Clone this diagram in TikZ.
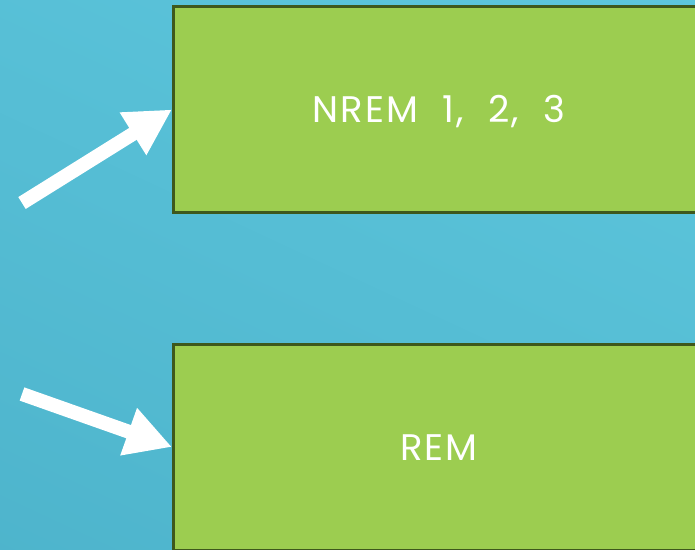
\documentclass[tikz,border=0pt]{standalone}
\usepackage{fontspec}
\setmainfont[LetterSpace=5,WordSpace=2.1,Numbers=Monospaced]{Poppins}
\usetikzlibrary{arrows.meta,positioning}
\definecolor{skyblue}{RGB}{95,201,223}
\definecolor{deepblue}{RGB}{76,178,202}
\definecolor{leafgreen}{RGB}{156,205,80}
\definecolor{darkleaf}{RGB}{62,88,28}

\begin{document}
\begin{tikzpicture}[x=1pt,y=-1pt,
  stage/.style={draw=darkleaf, line width=3pt, fill=leafgreen,
    minimum width=531pt, minimum height=206pt, inner sep=0pt,
    text=white, font=\fontsize{37}{44}\selectfont,
    text height=26pt, text depth=0pt},
  pointer/.style={white, line width=14pt, -{Triangle[length=46pt,width=47pt]}}]
  \useasboundingbox (0,0) rectangle (695,549);
  \clip (0,0) rectangle (695,549);
  % background
  \shade[top color=skyblue, bottom color=deepblue, shading angle=-25] (-200,-200) rectangle (895,749);
  % sleep stages
  \node[stage] (nrem) at (439,109.5) {NREM 1, 2, 3};
  \node[stage] (rem) at (439,447) {REM};
  % arrows
  \coordinate (tailA) at (22,203);
  \coordinate (tailB) at (22,394);
  \draw[pointer] (tailA) -- (nrem.west);
  \draw[pointer] (tailB) -- (rem.west);
\end{tikzpicture}
\end{document}
